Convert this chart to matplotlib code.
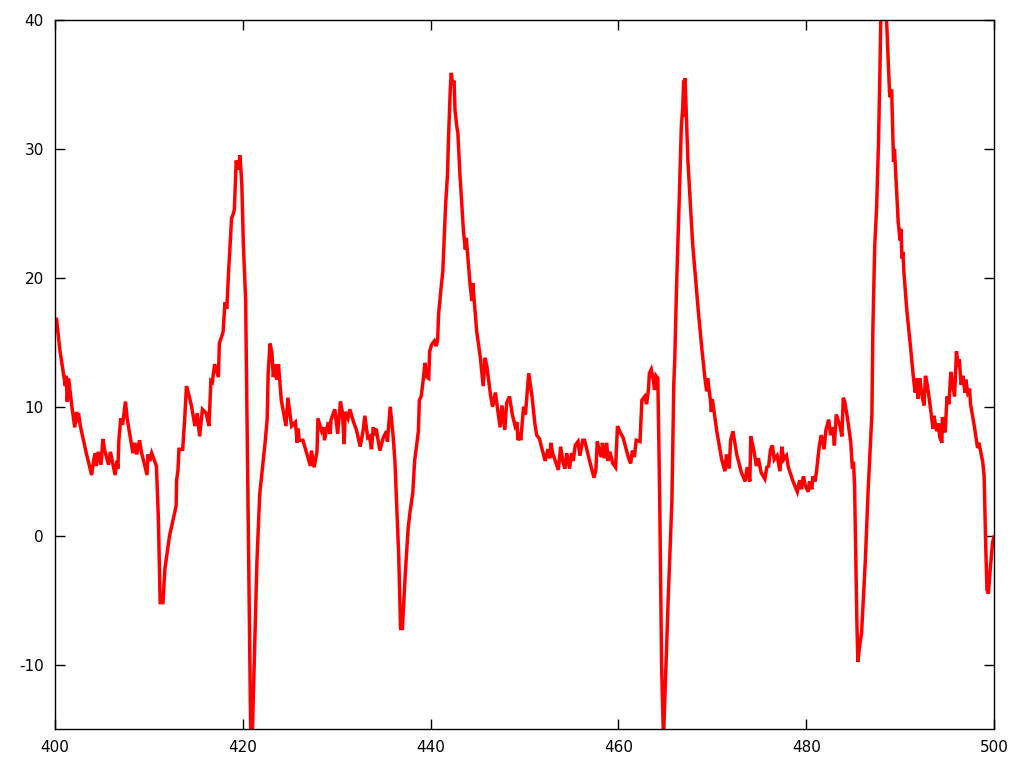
import matplotlib
matplotlib.use("Agg")
import matplotlib.pyplot as plt

plt.rcParams['axes.unicode_minus'] = False
plt.rcParams['font.family'] = ['DejaVu Sans']

x_vals = [
    400.0, 400.15, 400.5, 400.9, 401.1, 401.2, 401.3, 401.45, 401.8, 402.1,
    402.3, 402.4, 402.5, 402.7, 403.3, 403.9, 404.1, 404.3, 404.4, 404.6,
    404.9, 405.1, 405.3, 405.7, 405.9, 406.4, 406.6, 406.7, 406.8, 407.0,
    407.2, 407.5, 407.7, 408.3, 408.5, 408.7, 409.0, 409.2, 409.8, 409.9,
    410.1, 410.3, 410.5, 410.8, 411.0, 411.2, 411.5, 411.7, 412.2, 412.9,
    412.95, 413.1, 413.2, 413.6, 413.7, 413.8, 414.0, 414.3, 414.55, 414.9,
    415.15, 415.4, 415.7, 416.1, 416.4, 416.6, 416.75, 417.0, 417.4, 417.5,
    417.9, 418.1, 418.3, 418.5, 418.6, 418.8, 419.0, 419.1, 419.3, 419.5,
    419.7, 419.9, 420.05, 420.3, 420.85, 421.0, 421.5, 421.8, 422.4, 422.6,
    422.7, 422.9, 423.1, 423.25, 423.4, 423.6, 423.8, 424.1, 424.6, 424.8,
    425.2, 425.6, 425.8, 425.9, 426.0, 426.4, 426.8, 427.2, 427.3, 427.6,
    427.9, 428.0, 428.4, 428.6, 428.7, 429.1, 429.3, 429.4, 429.8, 430.1,
    430.4, 430.6, 430.8, 430.9, 431.2, 431.4, 431.8, 432.1, 432.5, 432.8,
    433.0, 433.3, 433.5, 433.7, 433.9, 434.0, 434.2, 434.6, 434.96, 435.3,
    435.4, 435.7, 436.0, 436.2, 436.6, 436.8, 437.0, 437.3, 437.6, 437.8,
    438.1, 438.3, 438.7, 438.8, 439.0, 439.2, 439.4, 439.6, 439.8, 439.9,
    440.1, 440.4, 440.6, 440.75, 440.85, 441.1, 441.3, 441.4, 441.6, 441.8,
    441.9, 442.1, 442.2, 442.35, 442.5, 442.6, 442.8, 442.9, 443.1, 443.5,
    443.7, 443.8, 444.2, 444.4, 444.5, 444.9, 445.3, 445.6, 445.8, 446.0,
    446.4, 446.6, 446.9, 447.1, 447.4, 447.6, 447.9, 448.1, 448.4, 448.7,
    449.0, 449.2, 449.3, 449.5, 449.6, 449.9, 450.1, 450.45, 450.8, 451.1,
    451.3, 451.6, 451.8, 452.2, 452.5, 452.7, 452.8, 453.0, 453.6, 453.85,
    454.1, 454.3, 454.5, 454.8, 455.0, 455.2, 455.4, 455.7, 455.9, 456.2,
    456.4, 457.0, 457.4, 457.6, 457.75, 458.0, 458.2, 458.3, 458.5, 458.75,
    458.9, 459.1, 459.4, 459.7, 459.9, 460.2, 460.5, 461.05, 461.3, 461.5,
    461.7, 461.9, 462.3, 462.5, 462.8, 463.0, 463.2, 463.3, 463.5, 463.7,
    463.85, 464.0, 464.2, 464.4, 464.6, 464.8, 465.0, 465.3, 465.7, 465.9,
    466.0, 466.2, 466.5, 466.7, 466.85, 466.95, 467.02, 467.1, 467.4, 467.9,
    468.5, 468.9, 469.2, 469.4, 469.5, 469.8, 469.9, 470.0, 470.5, 471.0,
    471.35, 471.5, 471.8, 471.95, 472.2, 472.6, 473.1, 473.5, 473.7, 474.0,
    474.1, 474.4, 474.7, 474.9, 475.2, 475.6, 475.8, 476.0, 476.2, 476.4,
    476.6, 476.9, 477.2, 477.4, 477.6, 477.9, 478.1, 478.6, 479.05, 479.3,
    479.5, 479.7, 479.9, 480.2, 480.35, 480.6, 480.7, 480.95, 481.1, 481.4,
    481.6, 481.9, 482.1, 482.4, 482.6, 482.85, 483.0, 483.2, 483.6, 483.8,
    483.95, 484.1, 484.4, 484.75, 484.9, 485.05, 485.15, 485.25, 485.4, 485.5,
    485.7, 485.9, 486.3, 486.6, 487.0, 487.1, 487.3, 487.5, 487.7, 487.85,
    487.95, 488.3, 488.5, 488.6, 488.75, 488.9, 489.1, 489.3, 489.4, 489.8,
    490.0, 490.1, 490.2, 490.3, 490.4, 490.7, 491.1, 491.4, 491.6, 491.8,
    491.9, 492.1, 492.3, 492.55, 492.7, 492.9, 493.25, 493.5, 493.6, 493.9,
    494.1, 494.2, 494.45, 494.5, 494.8, 495.0, 495.2, 495.4, 495.6, 495.8,
    496.0, 496.2, 496.3, 496.5, 496.7, 496.9, 497.0, 497.2, 497.4, 497.5,
    497.9, 498.25, 498.4, 498.8, 498.95, 499.1, 499.25, 499.4, 499.6, 499.85,
    500.0,
]

y_vals = [
    16.4, 16.9, 14.5, 12.6, 11.6, 12.4, 10.4, 12.2, 10.0, 8.4,
    9.6, 8.8, 9.5, 8.5, 6.5, 4.7, 5.8, 6.4, 5.4, 6.5,
    5.5, 7.5, 6.6, 5.5, 6.5, 4.7, 5.8, 5.2, 7.4, 9.1,
    8.6, 10.4, 9.0, 6.4, 7.2, 6.3, 7.4, 6.5, 4.7, 6.3,
    5.8, 6.4, 6.0, 5.4, 1.5, -5.2, -5.2, -2.6, 0.0, 2.3,
    4.3, 5.1, 6.7, 6.7, 7.8, 8.9, 11.6, 10.8, 10.0, 8.5,
    9.5, 7.7, 9.8, 9.5, 8.5, 12.0, 11.9, 13.3, 12.3, 14.9,
    15.8, 18.1, 17.6, 20.7, 21.9, 24.6, 25.0, 25.3, 29.1, 28.4,
    29.5, 27.2, 22.8, 18.3, -15.8, -15.8, -2.1, 3.2, 7.4, 9.1,
    12.6, 14.9, 14.2, 12.3, 13.3, 12.1, 13.3, 10.5, 8.5, 10.7,
    8.5, 8.8, 7.2, 8.3, 7.4, 7.4, 6.4, 5.4, 6.6, 5.3,
    6.5, 9.1, 8.1, 8.4, 7.4, 8.8, 7.9, 9.0, 9.8, 7.9,
    10.4, 9.6, 7.1, 9.6, 9.1, 9.8, 8.8, 8.2, 6.9, 8.1,
    9.3, 7.6, 7.7, 6.7, 8.4, 7.8, 8.3, 6.6, 7.6, 8.1,
    7.3, 10.0, 7.8, 5.8, -1.5, -7.2, -7.2, -3.0, 0.5, 1.8,
    3.3, 5.8, 8.1, 10.5, 10.8, 12.0, 13.4, 12.3, 12.2, 14.3,
    14.8, 15.1, 14.7, 15.2, 17.2, 19.1, 20.5, 22.2, 25.7, 28.0,
    30.7, 34.7, 35.9, 35.0, 35.3, 33.0, 31.7, 31.3, 28.3, 23.6,
    22.2, 23.1, 19.5, 18.2, 19.6, 15.9, 13.8, 11.6, 13.8, 13.1,
    10.8, 10.0, 11.1, 10.0, 8.4, 10.1, 8.2, 10.3, 10.8, 9.4,
    8.5, 8.8, 7.4, 8.0, 7.4, 10.0, 9.4, 12.6, 10.8, 8.7,
    7.8, 7.5, 6.9, 5.8, 6.7, 6.0, 7.2, 6.4, 5.1, 6.9,
    5.7, 5.2, 6.4, 5.2, 6.4, 5.8, 7.0, 7.3, 6.2, 7.4,
    7.4, 5.6, 4.5, 5.1, 7.3, 6.5, 6.1, 7.2, 6.0, 7.2,
    5.8, 6.5, 5.6, 5.3, 8.5, 8.0, 7.6, 6.1, 5.6, 6.6,
    6.1, 7.4, 7.3, 10.5, 10.8, 10.2, 11.3, 12.6, 12.9, 12.2,
    11.3, 12.4, 12.2, 2.8, -10.1, -15.8, -11.4, -5.0, 2.8, 11.8,
    13.6, 19.5, 26.6, 31.7, 33.2, 35.3, 32.5, 35.5, 29.1, 22.7,
    17.5, 14.4, 12.3, 11.2, 12.2, 10.5, 9.6, 10.6, 8.0, 5.9,
    5.0, 6.3, 5.2, 7.4, 8.1, 6.3, 4.9, 4.2, 5.3, 4.2,
    7.7, 6.7, 5.4, 6.0, 4.9, 4.4, 5.3, 5.4, 6.7, 7.0,
    5.9, 6.2, 5.0, 6.9, 5.9, 6.2, 5.3, 4.2, 3.4, 4.3,
    3.6, 4.6, 3.9, 3.4, 4.2, 3.6, 4.6, 4.2, 5.0, 7.0,
    7.8, 6.7, 8.2, 9.0, 7.8, 8.4, 7.0, 9.4, 8.5, 7.7,
    10.7, 10.4, 9.1, 7.2, 5.4, 5.5, 3.9, -0.3, -6.8, -9.8,
    -8.5, -7.5, -1.9, 3.6, 9.5, 16.0, 22.5, 25.5, 30.5, 36.0,
    40.5, 41.0, 40.4, 39.3, 36.5, 34.0, 34.6, 29.0, 30.0, 24.3,
    22.9, 23.8, 21.5, 22.0, 20.5, 17.6, 14.7, 12.4, 11.1, 12.2,
    10.6, 12.2, 11.0, 10.1, 12.4, 11.7, 9.8, 8.3, 9.3, 8.1,
    8.7, 7.7, 7.2, 9.2, 8.0, 10.8, 10.2, 12.7, 11.7, 10.8,
    14.3, 13.1, 13.7, 11.7, 12.4, 11.1, 12.1, 11.1, 11.4, 10.2,
    8.5, 6.8, 7.2, 5.7, 4.6, -0.3, -4.2, -4.5, -2.6, -0.5,
    -0.1,
]

x_ticks = [400, 420, 440, 460, 480, 500]
y_ticks = [-10, 0, 10, 20, 30, 40]

fig = plt.figure(figsize=(10.24, 7.68), dpi=100)
ax = fig.add_axes([55 / 1024, 1 - 729 / 768, 939 / 1024, 709 / 768])
ax.plot(x_vals, y_vals, color='#ff0000', linewidth=2.5, solid_joinstyle='miter')
ax.set_xlim(400, 500)
ax.set_ylim(-15, 40)
ax.set_xticks(x_ticks)
ax.set_yticks(y_ticks)
ax.set_xticklabels([str(t) for t in x_ticks])
ax.set_yticklabels([str(t) for t in y_ticks])
ax.tick_params(direction='in', top=True, right=True, length=7, width=1,
               labelsize=11, pad=8, colors='black')
for s in ax.spines.values():
    s.set_linewidth(1.0)
    s.set_color('black')

fig.savefig('out.png', dpi=100)
